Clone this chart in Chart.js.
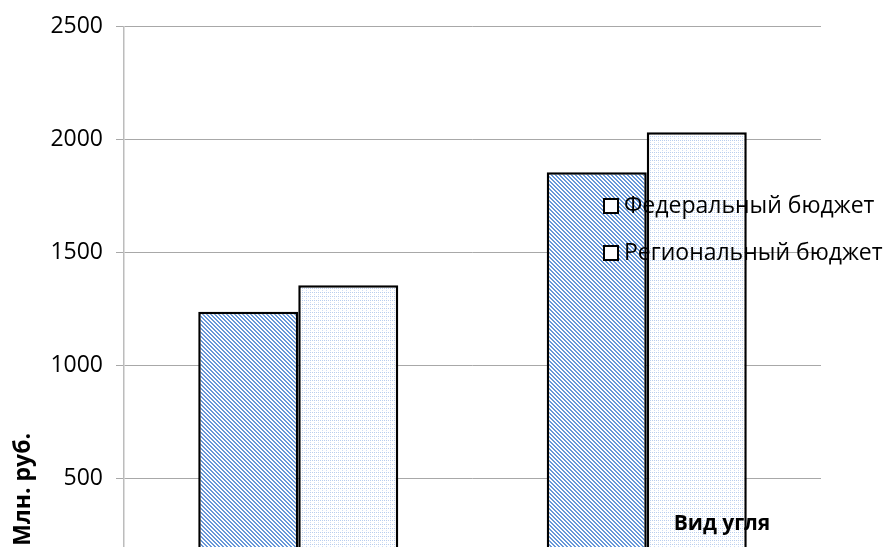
<!DOCTYPE html>
<html><head><meta charset="utf-8">
<script src="https://cdn.jsdelivr.net/npm/chart.js@4/dist/chart.umd.min.js"></script>
<style>
html,body{margin:0;padding:0;background:#fff;overflow:hidden;width:887px;height:547px;}
#wrap{width:887px;height:620px;position:relative;}
</style></head>
<body><div id="wrap"><canvas id="c" width="887" height="620"></canvas></div>
<script>
const categories = ['Уголь 1', 'Уголь 2'];
const seriesNames = ['Федеральный бюджет', 'Региональный бюджет'];
const federalValues = [1237, 1856];
const regionalValues = [1355, 2033];
const yTicks = [0, 500, 1000, 1500, 2000, 2500];
const yTitle = 'Млн. руб.';
const xTitle = 'Вид угля';

function stripePattern() {
  const c = document.createElement('canvas'); c.width = 4; c.height = 4;
  const g = c.getContext('2d');
  g.fillStyle = '#fff'; g.fillRect(0,0,4,4);
  g.fillStyle = '#6797d8';
  for (let y=0;y<4;y++) for (let x=0;x<4;x++) {
    const d = ((x - y) % 4 + 4) % 4;
    if (d===0 || d===1) g.fillRect(x,y,1,1);
  }
  return g.createPattern(c,'repeat');
}
function dotPattern() {
  const c = document.createElement('canvas'); c.width = 8; c.height = 8;
  const g = c.getContext('2d');
  g.fillStyle = '#fff'; g.fillRect(0,0,8,8);
  for (let y=0;y<8;y++) for (let x=0;x<8;x++) {
    if (y%4===0 && x%2===0) { g.fillStyle='#b8cdee'; g.fillRect(x,y,1,1); }
    else if (x%4===2 && y%4===2) { g.fillStyle='#d0def3'; g.fillRect(x,y,1,1); }
  }
  return g.createPattern(c,'repeat');
}

Chart.defaults.font.family = "'Open Sans', sans-serif";
Chart.defaults.color = '#000';

const overlay = {
  id: 'overlay',
  afterDraw(chart) {
    const ctx = chart.ctx;
    ctx.save();
    const rows = [206, 253];
    ctx.font = "23px 'Open Sans'";
    ctx.textBaseline = 'middle';
    ctx.textAlign = 'left';
    chart.data.datasets.forEach((ds, i) => {
      const y = rows[i];
      ctx.fillStyle = '#fff';
      ctx.fillRect(604, y - 7, 14, 14);
      ctx.lineWidth = 2; ctx.strokeStyle = '#000';
      ctx.strokeRect(604, y - 7, 14, 14);
      ctx.fillStyle = '#000';
      ctx.fillText(ds.label, 624, y);
    });
    ctx.font = "bold 21px 'Open Sans'";
    ctx.textAlign = 'center';
    ctx.fillText(xTitle, 722, 524);
    ctx.font = "bold 23px 'Open Sans'";
    ctx.translate(23, 433);
    ctx.rotate(-Math.PI/2);
    ctx.textAlign = 'right';
    ctx.fillText(yTitle, 0, 0);
    ctx.restore();
  }
};

new Chart(document.getElementById('c'), {
  type: 'bar',
  data: {
    labels: categories,
    datasets: [
      { label: seriesNames[0], data: federalValues, backgroundColor: stripePattern(), borderColor: '#000', borderWidth: 2.5 },
      { label: seriesNames[1], data: regionalValues, backgroundColor: dotPattern(), borderColor: '#000', borderWidth: 2.5 }
    ]
  },
  options: {
    responsive: false,
    animation: false,
    devicePixelRatio: 1,
    categoryPercentage: 0.574,
    barPercentage: 1,
    layout: { padding: { top: 25, right: 66, bottom: 29, left: 0 } },
    plugins: { legend: { display: false }, tooltip: { enabled: false } },
    scales: {
      x: { display: false },
      y: {
        min: 0, max: 2500,
        afterFit(scale) { scale.width = 124; },
        afterBuildTicks(scale) { scale.ticks = yTicks.map(v => ({ value: v })); },
        ticks: { font: { size: 23 }, padding: 13, color: '#000', callback: v => String(v) },
        grid: { color: '#a8a8a8', lineWidth: 1, tickLength: 8 },
        border: { color: '#bcbcbc', width: 1.5 }
      }
    }
  },
  plugins: [overlay]
});
</script></body></html>
